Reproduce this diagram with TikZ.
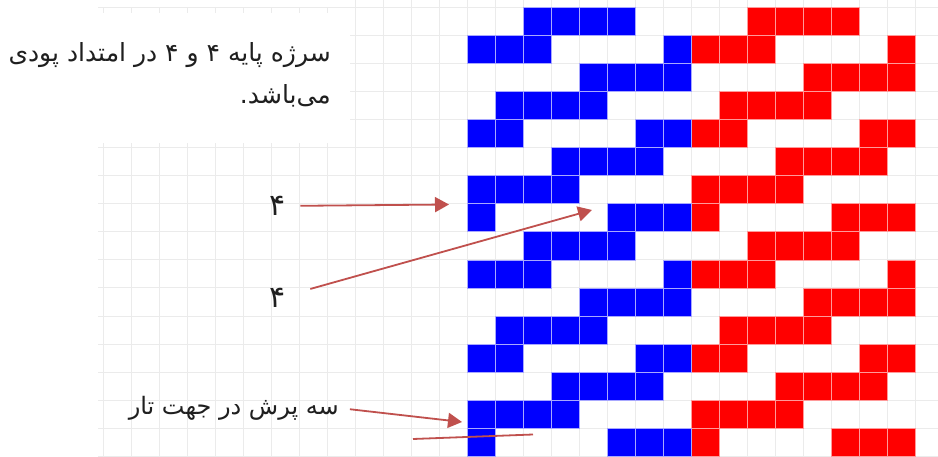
\documentclass[tikz,border=0pt]{standalone}
\usepackage{fontspec}
\usetikzlibrary{arrows.meta}
\TeXXeTstate=1
\newfontfamily\fa[Script=Arabic]{DejaVu Sans}
\definecolor{gridc}{HTML}{EBEBEB}
\definecolor{arr}{HTML}{C0504D}
\definecolor{bluec}{HTML}{0000FF}
\definecolor{redc}{HTML}{FF0000}
\definecolor{blueb}{HTML}{A8A8FF}
\definecolor{redb}{HTML}{FF9A9A}
\begin{document}
\begin{tikzpicture}[x=1pt,y=-1pt,
  gridline/.style={gridc, line width=1pt},
  bcell/.style={fill=bluec, draw=blueb, line width=0.8pt},
  rcell/.style={fill=redc, draw=redb, line width=0.8pt},
  lbl/.style={font=\fa\fontsize{25}{42}\selectfont, text=black!88, inner sep=0pt},
  digitlbl/.style={font=\fa\fontsize{30}{36}\selectfont, text=black!88, inner sep=0pt},
  pointer/.style={arr, line width=1.8pt, -{Triangle[length=14pt,width=15pt]}},
  plainline/.style={arr, line width=1.8pt}]
\useasboundingbox (0,0) rectangle (938,457);
\fill[white] (0,0) rectangle (938,457);
% grid
\foreach \k in {-13,...,16} \draw[gridline] ({467.5+28*\k},0) -- ({467.5+28*\k},457);
\foreach \j in {0,...,16} \draw[gridline] (98,{7.5+28.05*\j}) -- (938,{7.5+28.05*\j});
\fill[white] (0,13) rectangle (350,143);
\fill[white] (0,0) rectangle (350,6.6);
% weave cells
\foreach \r in {0,...,15}{\foreach \c in {0,...,7}{
  \pgfmathtruncatemacro\m{mod(\c+78-5*\r,8)}
  \ifnum\m<4
    \draw[bcell] ({467.5+28*\c},{7.5+28.05*\r}) rectangle +(28,28.05);
    \draw[rcell] ({467.5+28*(\c+8)},{7.5+28.05*\r}) rectangle +(28,28.05);
  \fi}}
% texts
\node[lbl, anchor=base east] (title1) at (331,62) {\beginR سرژه پایه ۴ و ۴ در امتداد پودی\endR};
\node[lbl, anchor=base east] (title2) at (331,104) {\beginR می‌باشد.\endR};
\node[digitlbl] (four1) at (278,206) {۴};
\node[digitlbl] (four2) at (278,298) {۴};
\node[lbl, font=\fa\fontsize{24}{30}\selectfont, anchor=east] (warp) at (339,408) {\beginR سه پرش در جهت تار\endR};
% arrows
\coordinate (t1) at (449,204.5);
\coordinate (t2) at (592,210);
\coordinate (t3) at (462,422);
\coordinate (l1) at (413,439);
\coordinate (l2) at (533,434.5);
\draw[pointer, shorten <=14pt] (four1) -- (t1);
\draw[pointer, shorten <=25pt] (four2) -- (t2);
\draw[pointer, shorten <=11pt] (warp.east) -- (t3);
\draw[plainline] (l1) -- (l2);
\end{tikzpicture}
\end{document}
